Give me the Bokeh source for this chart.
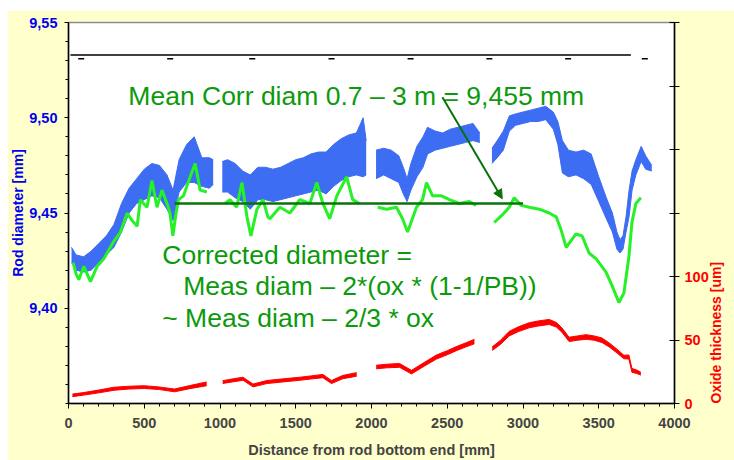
import numpy as np
from bokeh.plotting import figure
from bokeh.layouts import column, row
from bokeh.models import (Range1d, LinearAxis, FixedTicker, CustomJSTickFormatter,
                          Label, Arrow, NormalHead, Spacer)
from bokeh.embed import file_html
from bokeh.resources import INLINE

nan = float("nan")

# ---- data ----
# Measured rod diameter [mm] (noisy band: low / high envelope)
blue_x = [20, 50, 100, 150, 200, 250, 300, 350, 400, 450, 500, 550, 600, 650, 690, 730, 780, 830, 880, 930, 955, nan,
          1015, 1050, 1100, 1150, 1200, 1250, 1300, 1350, 1400, 1450, 1500, 1550, 1600, 1650, 1700, 1750, 1800, 1850, 1900, 1945, 1965, nan,
          2030, 2080, 2130, 2180, 2210, 2235, 2260, 2300, 2340, 2370, 2420, 2470, 2520, 2570, 2620, 2670, 2715, nan,
          2795, 2830, 2870, 2910, 2950, 3000, 3050, 3100, 3150, 3200, 3230, 3260, 3300, 3350, 3400, 3450, 3500, 3550, 3590, 3620, 3640, 3660, 3680, 3700, 3720, 3745, 3780, 3810, 3850]
blue_lo = [9.424, 9.420, 9.419, 9.420, 9.424, 9.428, 9.432, 9.440, 9.450, 9.455, 9.457, 9.459, 9.458, 9.452, 9.446, 9.461, 9.466, 9.466, 9.464, 9.463, 9.465, nan,
           9.461, 9.461, 9.458, 9.456, 9.452, 9.457, 9.457, 9.456, 9.457, 9.458, 9.459, 9.460, 9.461, 9.462, 9.460, 9.464, 9.467, 9.469, 9.470, 9.469, 9.470, nan,
           9.468, 9.470, 9.468, 9.466, 9.460, 9.456, 9.462, 9.469, 9.474, 9.481, 9.483, 9.484, 9.485, 9.486, 9.487, 9.488, 9.487, nan,
           9.476, 9.479, 9.483, 9.493, 9.496, 9.497, 9.498, 9.498, 9.499, 9.494, 9.486, 9.471, 9.469, 9.470, 9.468, 9.465, 9.456, 9.447, 9.440, 9.431, 9.429, 9.431, 9.440, 9.448, 9.462, 9.470, 9.477, 9.473, 9.472]
blue_hi = [9.432, 9.428, 9.427, 9.430, 9.434, 9.438, 9.444, 9.455, 9.463, 9.468, 9.473, 9.476, 9.475, 9.470, 9.462, 9.478, 9.486, 9.490, 9.479, 9.479, 9.478, nan,
           9.477, 9.478, 9.476, 9.472, 9.470, 9.474, 9.474, 9.473, 9.474, 9.476, 9.478, 9.479, 9.481, 9.482, 9.482, 9.486, 9.489, 9.491, 9.492, 9.500, 9.488, nan,
           9.483, 9.484, 9.483, 9.480, 9.474, 9.468, 9.476, 9.485, 9.490, 9.495, 9.493, 9.492, 9.494, 9.495, 9.496, 9.497, 9.492, nan,
           9.484, 9.488, 9.493, 9.501, 9.502, 9.503, 9.504, 9.505, 9.506, 9.503, 9.498, 9.488, 9.483, 9.482, 9.483, 9.481, 9.469, 9.458, 9.450, 9.440, 9.436, 9.438, 9.448, 9.462, 9.472, 9.478, 9.485, 9.480, 9.475]

# Corrected diameter [mm]
green_x = [31, 50, 68, 101, 145, 189, 233, 298, 343, 387, 420, 453, 474, 518, 551, 584, 617, 650, 670, 689, 710, 726, 759, 803, 836, 869, 913, nan,
           1033, 1066, 1110, 1145, 1178, 1204, 1244, 1284, 1316, 1329, 1395, 1461, 1527, 1593, 1639, 1679, 1724, 1771, 1836, 1876, 1920, nan,
           2041, 2099, 2165, 2205, 2238, 2297, 2337, 2363, 2403, 2462, 2514, 2580, 2646, 2690, nan,
           2810, 2863, 2909, 2942, 2988, 3041, 3107, 3173, 3219, 3252, 3285, 3350, 3390, 3436, 3482, 3548, 3587, 3633, 3666, 3699, 3719, 3745, 3778]
green_y = [9.424, 9.418, 9.415, 9.422, 9.414, 9.422, 9.426, 9.435, 9.440, 9.450, 9.446, 9.443, 9.457, 9.453, 9.467, 9.453, 9.462, 9.455, 9.450, 9.438, 9.450, 9.457, 9.459, 9.469, 9.476, 9.462, 9.461, nan,
           9.455, 9.457, 9.453, 9.466, 9.448, 9.438, 9.452, 9.457, 9.448, 9.447, 9.453, 9.450, 9.457, 9.455, 9.466, 9.455, 9.447, 9.459, 9.469, 9.457, 9.455, nan,
           9.453, 9.452, 9.453, 9.447, 9.440, 9.453, 9.457, 9.466, 9.459, 9.459, 9.457, 9.455, 9.456, 9.454, nan,
           9.445, 9.449, 9.453, 9.458, 9.454, 9.453, 9.452, 9.450, 9.448, 9.441, 9.432, 9.439, 9.438, 9.429, 9.426, 9.419, 9.412, 9.403, 9.408, 9.427, 9.445, 9.455, 9.458]

# Oxide thickness [um] (noisy band: low / high envelope)
ox_x = [26, 100, 200, 300, 400, 500, 600, 700, 800, 912, nan,
        1018, 1100, 1152, 1218, 1309, 1400, 1527, 1600, 1679, 1736, 1810, 1902, nan,
        2031, 2100, 2185, 2264, 2350, 2429, 2500, 2560, 2620, 2679, nan,
        2797, 2850, 2909, 2970, 3041, 3100, 3173, 3220, 3258, 3304, 3360, 3416, 3470, 3521, 3570, 3614, 3666, 3699, 3719, 3750, 3778]
ox_lo = [5.4, 6.6, 8.4, 10.4, 11.4, 11.8, 11.0, 9.2, 11.7, 14.0, nan,
         15.8, 17.3, 18.3, 13.1, 15.7, 16.8, 18.3, 19.3, 20.3, 15.7, 19.5, 21.5, nan,
         27.3, 28.1, 28.5, 23.3, 29.5, 35.0, 38.4, 41.6, 44.4, 47.0, nan,
         41.8, 46.4, 53.2, 56.6, 59.6, 61.0, 62.2, 60.2, 56.0, 48.8, 49.8, 50.6, 49.8, 48.0, 44.4, 40.4, 35.2, 35.0, 24.6, 23.6, 22.4]
ox_hi = [7.4, 8.6, 10.6, 12.8, 13.6, 14.0, 13.0, 11.4, 14.1, 17.0, nan,
         18.0, 19.7, 20.7, 15.3, 18.1, 19.2, 20.7, 21.7, 22.9, 18.1, 22.1, 24.3, nan,
         30.1, 30.9, 31.5, 26.1, 32.5, 38.2, 41.6, 44.8, 47.6, 50.5, nan,
         44.6, 49.6, 56.8, 60.4, 63.6, 65.0, 66.2, 63.8, 59.4, 52.2, 53.2, 54.2, 53.2, 51.6, 47.6, 43.4, 38.0, 38.2, 27.6, 26.4, 24.6]

# Mean corrected diameter over 0.7 - 3 m
mean_x = [700, 3000]
mean_value = 9.455

# Upper reference line and its marks
ref_line_x = [13, 3712]
ref_line_value = 9.533
ref_marks_x = [84, 671, 1213, 1736, 2258, 2778, 3298, 3804]
ref_marks_value = 9.531

x_ticks = [0, 500, 1000, 1500, 2000, 2500, 3000, 3500, 4000]
diam_ticks = [9.40, 9.45, 9.50, 9.55]
ox_ticks = [0, 50, 100, 150, 200, 250, 300]


def segments(xs, *cols):
    xs = np.asarray(xs, dtype=float)
    arrs = [np.asarray(c, dtype=float) for c in cols]
    breaks = np.where(np.isnan(xs))[0]
    starts = np.concatenate([[0], breaks + 1])
    ends = np.concatenate([breaks, [len(xs)]])
    for s, e in zip(starts, ends):
        yield (xs[s:e],) + tuple(a[s:e] for a in arrs)


FONT = "Liberation Sans"
BLUE = "#3D6DF2"
GREEN = "#26F026"
RED = "#FF0000"
TXT_GREEN = "#0C9A0C"
DARK_GREEN = "#0A720A"
TICK_SIZE = "14.5px"
TITLE_SIZE = "14px"

p = figure(width=727, height=450, x_range=Range1d(0, 4000), y_range=Range1d(9.35, 9.55),
           output_backend="svg", toolbar_location=None,
           min_border_left=61, min_border_right=58, min_border_top=12, min_border_bottom=57)
p.extra_y_ranges = {"ox": Range1d(0, 300)}
p.border_fill_color = "#FFFFCC"
p.background_fill_color = "white"
p.outline_line_color = "#8C8C8C"
p.outline_line_width = 1.5
p.xgrid.visible = False
p.ygrid.visible = False

# x axis
xa = p.xaxis[0]
xa.ticker = FixedTicker(ticks=x_ticks, minor_ticks=list(range(0, 4001, 100)))
xa.axis_label = "Distance from rod bottom end [mm]"
xa.axis_label_text_font = FONT
xa.axis_label_text_font_style = "bold"
xa.axis_label_text_font_size = "14.5px"
xa.axis_label_standoff = 11
xa.major_label_text_font = FONT
xa.major_label_text_font_style = "bold"
xa.major_label_text_font_size = TICK_SIZE
xa.major_label_standoff = 9
xa.axis_line_color = "black"
xa.axis_line_width = 1.5
xa.major_tick_out = 5
xa.major_tick_in = 0
xa.minor_tick_out = 3
xa.minor_tick_in = 0

# left axis
ya = p.yaxis[0]
ya.ticker = FixedTicker(ticks=diam_ticks, minor_ticks=[round(9.35 + 0.01 * i, 2) for i in range(21)])
ya.formatter = CustomJSTickFormatter(code="return tick.toFixed(2).replace('.', ',');")
ya.axis_label = "Rod diameter [mm]"
ya.axis_label_text_font = FONT
ya.axis_label_text_font_style = "bold"
ya.axis_label_text_font_size = TITLE_SIZE
ya.axis_label_text_color = "#0000EE"
ya.axis_label_standoff = 0
ya.major_label_text_font = FONT
ya.major_label_text_font_style = "bold"
ya.major_label_text_font_size = TICK_SIZE
ya.major_label_text_color = "#0000EE"
ya.major_label_standoff = 7
ya.axis_line_color = "black"
ya.axis_line_width = 1.5
ya.major_tick_out = 4
ya.major_tick_in = 0
ya.minor_tick_out = 3
ya.minor_tick_in = 0

# right axis (oxide)
ra = LinearAxis(y_range_name="ox",
                ticker=FixedTicker(ticks=ox_ticks, minor_ticks=[]),
                formatter=CustomJSTickFormatter(code="return tick <= 100 ? tick.toFixed(0) : '';"))
ra.major_label_text_font = FONT
ra.major_label_text_font_style = "bold"
ra.major_label_text_font_size = TICK_SIZE
ra.major_label_text_color = RED
ra.major_label_standoff = 5
ra.axis_line_color = "black"
ra.axis_line_width = 1.5
ra.major_tick_out = 5
ra.major_tick_in = 5
ra.axis_label = "Oxide thickness [um]"
ra.axis_label_text_font = FONT
ra.axis_label_text_font_style = "bold"
ra.axis_label_text_font_size = TITLE_SIZE
ra.axis_label_text_color = RED
ra.axis_label_standoff = 4
ra.axis_label_orientation = np.pi / 2
ra.axis_label_align = "start"
p.add_layout(ra, "right")

# series
for sx, lo, hi in segments(blue_x, blue_lo, blue_hi):
    p.varea(x=sx, y1=lo, y2=hi, fill_color=BLUE)
    p.line(sx, hi, line_color=BLUE, line_width=1)
    p.line(sx, lo, line_color=BLUE, line_width=1)

p.line(green_x, green_y, line_color=GREEN, line_width=3)

for sx, lo, hi in segments(ox_x, ox_lo, ox_hi):
    p.varea(x=sx, y1=lo, y2=hi, fill_color=RED, y_range_name="ox")
    p.line(sx, hi, line_color=RED, line_width=1, y_range_name="ox")
    p.line(sx, lo, line_color=RED, line_width=1, y_range_name="ox")

p.line(mean_x, [mean_value] * len(mean_x), line_color=DARK_GREEN, line_width=2.5)

p.line(ref_line_x, [ref_line_value] * len(ref_line_x), line_color="black", line_width=1.5)
p.scatter(ref_marks_x, [ref_marks_value] * len(ref_marks_x), marker="dash", size=6,
          line_color="black", line_width=1.5)

# annotations
TXT = dict(text_font=FONT, text_font_size="26.5px", text_color=TXT_GREEN,
           text_baseline="alphabetic")
p.add_layout(Label(x=395, y=9.5113, text="Mean Corr diam 0.7 \u2013 3 m = 9,455 mm", **TXT))
p.add_layout(Label(x=619, y=9.4277, text="Corrected diameter =", **TXT))
p.add_layout(Label(x=757, y=9.4115, text="Meas diam \u2013 2*(ox * (1-1/PB))", **TXT))
p.add_layout(Label(x=619, y=9.3948, text="~ Meas diam \u2013 2/3 * ox", **TXT))

p.add_layout(Arrow(end=NormalHead(size=9, fill_color=DARK_GREEN, line_color=DARK_GREEN),
                   x_start=2468, y_start=9.5108, x_end=2863, y_end=9.4575,
                   line_color=DARK_GREEN, line_width=2))

layout = column(Spacer(height=10), row(Spacer(width=7), p))
open("out.html", "w").write(file_html(layout, INLINE))
